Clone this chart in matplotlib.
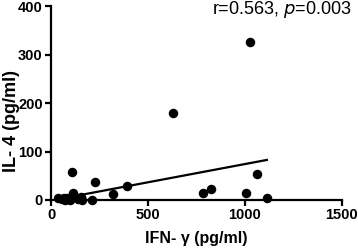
import numpy as np
import matplotlib
matplotlib.use("Agg")
import matplotlib.pyplot as plt

# values
ifn_gamma = [38, 55, 65, 72, 85, 98, 107, 115, 141, 153, 158, 211, 227, 320, 392,
             629, 785, 823, 1005, 1026, 1060, 1113]
il4 = [5, 2, 4, 0, 3, 0, 57, 15, 2, 7, 0, 0, 37, 12, 28,
       179, 15, 22, 14, 326, 54, 5]
fit_slope = 0.0754
fit_intercept = -1.2
x_ticks = [0, 500, 1000, 1500]
y_ticks = [0, 100, 200, 300, 400]

plt.rcParams['font.family'] = ['Liberation Sans', 'DejaVu Sans']

fig = plt.figure(figsize=(3.58, 2.49), dpi=100)
ax = fig.add_axes([0.1425, 0.197, 0.8125, 0.777])

ax.scatter(ifn_gamma, il4, s=34, color='black', zorder=3, clip_on=False)
xs = np.array([min(ifn_gamma), max(ifn_gamma)])
ax.plot(xs, fit_intercept + fit_slope * xs, color='black', lw=1.6)

ax.set_xlim(0, 1500)
ax.set_ylim(0, 400)
ax.set_xticks(x_ticks)
ax.set_yticks(y_ticks)
for s in ['top', 'right']:
    ax.spines[s].set_visible(False)
for s in ['left', 'bottom']:
    ax.spines[s].set_linewidth(1.6)
ax.tick_params(width=1.6, length=4, labelsize=10.5, pad=2)
for lab in ax.get_xticklabels() + ax.get_yticklabels():
    lab.set_fontweight('heavy')

ax.set_xlabel('IFN- γ (pg/ml)', fontsize=11.5, fontweight='bold', labelpad=6)
ax.set_ylabel('IL- 4 (pg/ml)', fontsize=13, fontweight='bold', va='center')
ax.yaxis.set_label_coords(-0.135, 0.41)
ax.text(1.034, 0.982, r'r=0.563, $\it{p}$=0.003', transform=ax.transAxes,
        ha='right', va='center', fontsize=13)

fig.savefig('out.png', dpi=100)
